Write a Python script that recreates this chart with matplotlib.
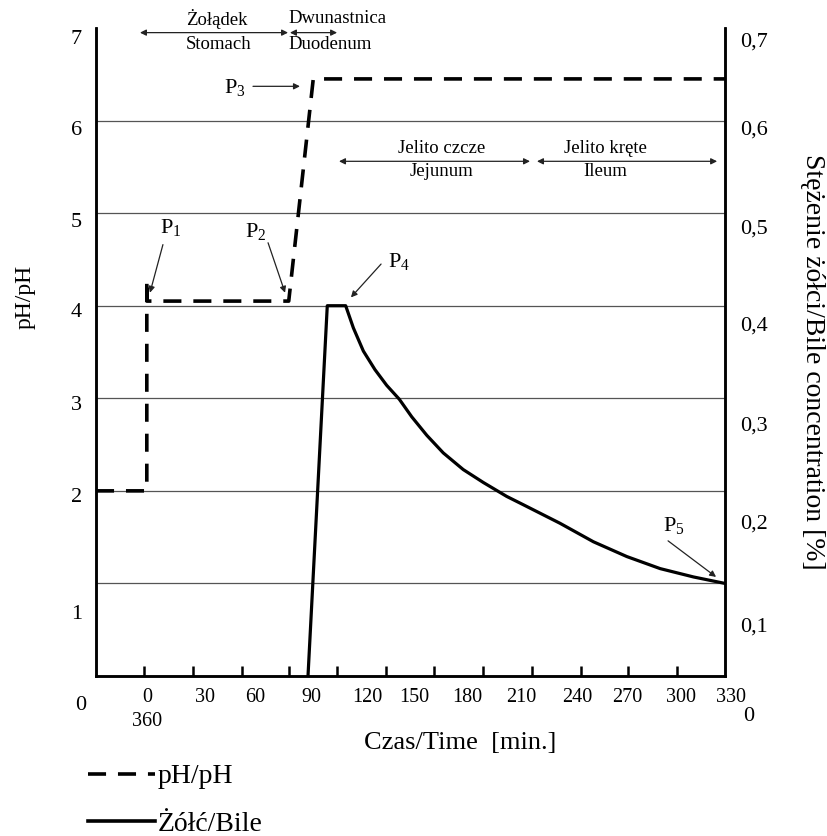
import matplotlib
matplotlib.use("Agg")
import matplotlib.pyplot as plt
from matplotlib.lines import Line2D
from matplotlib.transforms import ScaledTranslation

plt.rcParams["font.family"] = ["Liberation Serif", "DejaVu Serif"]
plt.rcParams["mathtext.fontset"] = "custom"
plt.rcParams["mathtext.rm"] = "Liberation Serif"
plt.rcParams["mathtext.default"] = "regular"

# ---------------- data ----------------
# pH curve (time in min, pH)
ph_time = [-29, 0, 0, 0, 81, 95, 330]
ph_value = [2.0, 2.0, 4.28, 4.05, 4.05, 6.45, 6.45]

# bile concentration curve (time in min, %)
bile_time = [92, 103, 113.5, 117.9, 123.6, 130.2, 136.9, 144.1, 151.2, 159.8,
             169.2, 180.6, 192.1, 205.4, 214.9, 235.8, 254.9, 274.0, 293.0,
             312.0, 330]
bile_conc = [0.0, 0.40, 0.40, 0.376, 0.351, 0.331, 0.314, 0.299, 0.280, 0.260,
             0.241, 0.223, 0.209, 0.194, 0.185, 0.165, 0.145, 0.129, 0.116,
             0.107, 0.100]

x_ticks = [0, 30, 60, 90, 120, 150, 180, 210, 240, 270, 300, 330]
x_ticklabels = ["0\n360", "30", "60", "90", "120", "150", "180", "210",
                "240", "270", "300", "330"]
x_marks = [-1.6, 26.4, 54.3, 81.2, 108.6, 136.5, 163.9, 191.9, 219.9,
           247.8, 274.6, 302.6]
ph_ticks = [0, 1, 2, 3, 4, 5, 6, 7]
grid_levels = [1, 2, 3, 4, 5, 6]
bile_ticks = [0, 0.1, 0.2, 0.3, 0.4, 0.5, 0.6, 0.7]
bile_ticklabels = ["0", "0,1", "0,2", "0,3", "0,4", "0,5", "0,6", "0,7"]

# ---------------- figure ----------------
W, H = 827, 836
fig = plt.figure(figsize=(W / 100, H / 100), dpi=100)
ax = fig.add_axes([96 / W, 1 - 676 / H, 629 / W, 648 / H])
ax2 = ax.twinx()

ax.set_xlim(-29, 330)
ax.set_ylim(0, 7)
ax2.set_ylim(0, 0.7)

for lvl in grid_levels:
    ax.axhline(lvl, color="#555555", lw=0.9, zorder=0)

dash = (0, (5.0, 3.3))
ax.plot(ph_time, ph_value, color="black", lw=2.6, linestyle=dash, zorder=3)
ax2.plot(bile_time, bile_conc, color="black", lw=2.3, zorder=3,
         solid_joinstyle="round")

for a in (ax, ax2):
    a.spines["top"].set_visible(False)
    for s in ("left", "right", "bottom"):
        a.spines[s].set_linewidth(1.8)

# x ticks: labels (no marks) + separate short inward marks
ax.set_xticks(x_ticks)
ax.set_xticklabels(x_ticklabels, fontsize=14.5, linespacing=1.3)
ax.set_xticks(x_marks, minor=True)
ax.tick_params(axis="x", which="major", length=0, pad=9)
ax.tick_params(axis="x", which="minor", direction="in", length=7, width=1.8)

ax.set_yticks(ph_ticks)
ax.set_yticklabels([str(v) for v in ph_ticks], fontsize=16)
ax.tick_params(axis="y", length=0, pad=10)

ax2.set_yticks(bile_ticks)
ax2.set_yticklabels(bile_ticklabels, fontsize=16)
ax2.tick_params(axis="y", length=0, pad=11)


def shift(label, dx, dy):
    label.set_transform(label.get_transform() +
                        ScaledTranslation(dx / 100, -dy / 100, fig.dpi_scale_trans))


for lab, dx in zip(ax.get_xticklabels(), [0, 6, 3, 7, 10, 5, 5, 7, 10, 7, 9, 6]):
    shift(lab, dx, 0)
for lab, (dx, dy) in zip(ax.get_yticklabels(),
                         [(4, 27), (0, 29), (0, 4), (0, 5), (0, 4), (0, 7), (0, 7), (0, 9)]):
    shift(lab, dx, dy)
for lab, (dx, dy) in zip(ax2.get_yticklabels(),
                         [(3, 38), (0, 41), (0, 31), (0, 25), (0, 18), (0, 13), (0, 7), (0, 12)]):
    shift(lab, dx, dy)

# axis labels
ax.set_xlabel("Czas/Time  [min.]", fontsize=19)
ax.xaxis.set_label_coords((460 - 96) / 629, (676 - 743) / 648)
ax.xaxis.label.set_va("center")
ax.set_ylabel("pH/pH", fontsize=17)
ax.yaxis.set_label_coords((25 - 96) / 629, (676 - 297) / 648)
ax.yaxis.label.set_va("center")
ax2.set_ylabel("Stężenie żółci/Bile concentration [%]", fontsize=20, rotation=270)
ax2.yaxis.set_label_coords((812 - 96) / 629, (676 - 362) / 648)
ax2.yaxis.label.set_va("center")

# section annotations above / inside the plot
arrow2 = dict(arrowstyle="<|-|>", lw=0.9, color="#222222",
              mutation_scale=9, shrinkA=0, shrinkB=0)
sec_kw = dict(fontsize=13.5, ha="center", va="center", clip_on=False)
ax.annotate("", xy=(-3.9, 6.95), xytext=(80.6, 6.95), arrowprops=arrow2,
            annotation_clip=False)
ax.annotate("", xy=(81.7, 6.95), xytext=(108.6, 6.95), arrowprops=arrow2,
            annotation_clip=False)
ax.text(40, 7.10, "Żołądek", **sec_kw)
ax.text(41, 6.82, "Stomach", **sec_kw)
ax.text(80.6, 7.10, "Dwunastnica", fontsize=13.5, ha="left", va="center", clip_on=False)
ax.text(80.6, 6.82, "Duodenum", fontsize=13.5, ha="left", va="center", clip_on=False)

ax.annotate("", xy=(109.7, 5.56), xytext=(218.7, 5.56), arrowprops=arrow2)
ax.annotate("", xy=(222.7, 5.56), xytext=(325.5, 5.56), arrowprops=arrow2)
ax.text(168, 5.70, "Jelito czcze", **sec_kw)
ax.text(168, 5.45, "Jejunum", **sec_kw)
ax.text(261.5, 5.70, "Jelito kręte", **sec_kw)
ax.text(261.5, 5.45, "Ileum", **sec_kw)

# point markers P1..P5
arrow1 = dict(arrowstyle="-|>", lw=0.9, color="#222222",
              mutation_scale=9, shrinkA=0, shrinkB=0)
p_kw = dict(fontsize=16, ha="center", va="center")
points = [
    ("P$_1$", (13.5, 4.84), (9.2, 4.66), (1.8, 4.14)),
    ("P$_2$", (62.0, 4.80), (69.2, 4.68), (78.9, 4.14)),
    ("P$_3$", (50.0, 6.36), (60.6, 6.37), (87.4, 6.37)),
    ("P$_4$", (144.0, 4.48), (133.7, 4.45), (116.5, 4.09)),
    ("P$_5$", (301.0, 1.63), (297.5, 1.46), (324.9, 1.07)),
]
for txt, tpos, tail, head in points:
    ax.text(tpos[0], tpos[1], txt, **p_kw)
    ax.annotate("", xy=head, xytext=tail, arrowprops=arrow1)

# legend below the plot
handles = [
    Line2D([], [], color="black", lw=2.6, linestyle=dash),
    Line2D([], [], color="black", lw=2.6),
]
fig.legend(handles, ["pH/pH", "Żółć/Bile"], loc="upper left",
           bbox_to_anchor=(88 / W, 1 - 764 / H), frameon=False, fontsize=20,
           handlelength=2.4, handletextpad=0.1, labelspacing=0.8,
           borderpad=0, borderaxespad=0)

fig.savefig("out.png", dpi=100)
